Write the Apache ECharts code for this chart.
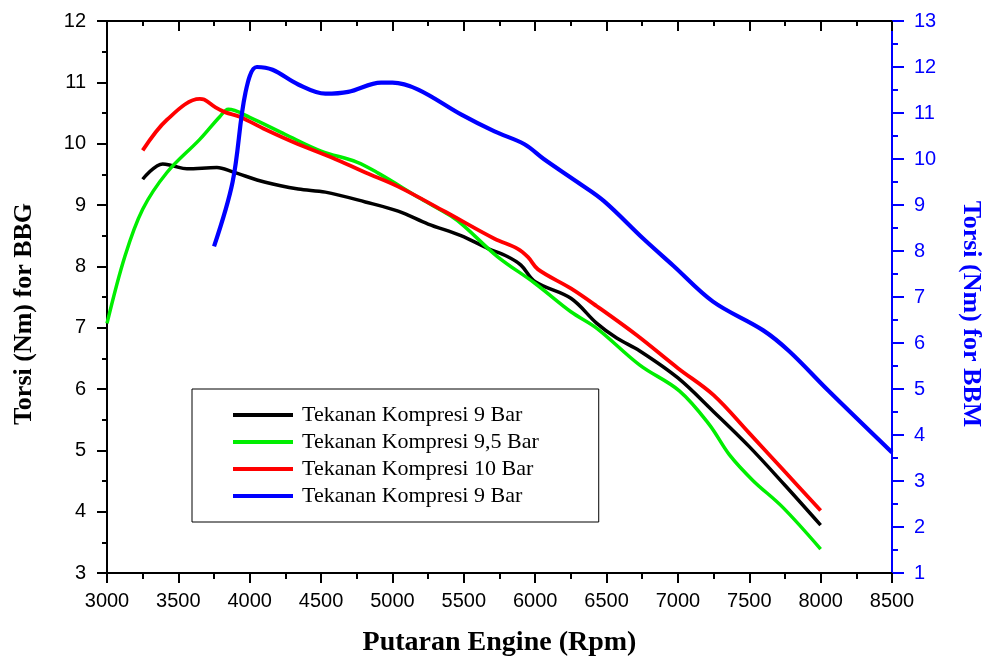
<!DOCTYPE html>
<html>
<head>
<meta charset="utf-8">
<script src="https://cdn.jsdelivr.net/npm/echarts@6/dist/echarts.min.js"></script>
<style>html,body{margin:0;padding:0;background:#fff;overflow:hidden}#c{width:992px;height:662px}</style>
</head>
<body>
<div id="c"></div>
<script>
// ---- data ----
var xTicks = [3000, 3500, 4000, 4500, 5000, 5500, 6000, 6500, 7000, 7500, 8000, 8500];
var seriesKeys = ['k9', 'k95', 'k10', 'k9bbm'];
var legendLabels = ['Tekanan Kompresi 9 Bar', 'Tekanan Kompresi 9,5 Bar', 'Tekanan Kompresi 10 Bar', 'Tekanan Kompresi 9 Bar'];

var rpmBlack = [3250, 3390, 3460, 3560, 3770, 3880, 4110, 4340, 4530, 4810, 5040, 5250, 5480, 5670, 5805, 5900, 6000, 6250, 6432, 6571, 6733, 7000, 7250, 7500, 7750, 8000];
var torBlack = [9.42, 9.67, 9.64, 9.59, 9.61, 9.54, 9.37, 9.26, 9.21, 9.05, 8.90, 8.69, 8.50, 8.29, 8.16, 8.02, 7.75, 7.48, 7.07, 6.83, 6.62, 6.18, 5.63, 5.06, 4.43, 3.78];

var rpmGreen = [3000, 3125, 3250, 3420, 3650, 3790, 3850, 4000, 4250, 4500, 4750, 4900, 5200, 5410, 5500, 5735, 6000, 6250, 6432, 6733, 7010, 7220, 7360, 7525, 7735, 8000];
var torGreen = [7.07, 8.16, 8.93, 9.53, 10.07, 10.44, 10.56, 10.43, 10.15, 9.88, 9.70, 9.52, 9.10, 8.82, 8.66, 8.16, 7.72, 7.26, 6.99, 6.39, 5.97, 5.42, 4.93, 4.51, 4.07, 3.39];

var rpmRed = [3250, 3420, 3650, 3680, 3760, 3830, 3930, 4110, 4340, 4570, 4810, 5040, 5370, 5715, 5875, 5950, 6020, 6250, 6432, 6710, 7000, 7250, 7500, 7750, 8000];
var torRed = [9.89, 10.39, 10.73, 10.72, 10.59, 10.51, 10.44, 10.23, 9.99, 9.78, 9.53, 9.30, 8.89, 8.45, 8.29, 8.15, 7.95, 7.64, 7.35, 6.88, 6.34, 5.90, 5.28, 4.65, 4.02];

var rpmBlue = [3750, 3880, 3970, 4050, 4160, 4340, 4530, 4690, 4920, 5000, 5180, 5480, 5715, 5925, 6060, 6295, 6480, 6760, 6968, 7246, 7595, 7780, 8055, 8500];
var torBlue = [8.10, 9.50, 11.44, 12.00, 11.94, 11.62, 11.42, 11.46, 11.66, 11.66, 11.51, 10.97, 10.60, 10.32, 10.00, 9.50, 9.09, 8.26, 7.68, 6.90, 6.28, 5.82, 4.96, 3.62];

function pairs(xs, ys) { return xs.map(function (x, i) { return [x, ys[i]]; }); }

var labelMap = {};
seriesKeys.forEach(function (k, i) { labelMap[k] = legendLabels[i]; });

var chart = echarts.init(document.getElementById('c'), null, { renderer: 'canvas', width: 992, height: 662 });
var sansFont = 'Liberation Sans, Arial, sans-serif';
var serifFont = 'Liberation Serif, Times New Roman, serif';

function lineSeries(key, data, color, width, yIdx) {
  return {
    name: key, type: 'line', data: data, yAxisIndex: yIdx,
    smooth: 0.35, showSymbol: false, symbol: 'none',
    lineStyle: { color: color, width: width, cap: 'butt' },
    itemStyle: { color: color },
    animation: false
  };
}

chart.setOption({
  animation: false,
  backgroundColor: '#fff',
  grid: { left: 107, right: 95, top: 21, bottom: 86 },
  legend: {
    orient: 'vertical', left: 192, top: 389,
    data: seriesKeys,
    formatter: function (n) { return labelMap[n]; },
    icon: 'rect', itemWidth: 60, itemHeight: 4, itemGap: 5,
    padding: [15, 60, 15, 41],
    borderColor: '#000', borderWidth: 1, backgroundColor: '#fff',
    selectedMode: false,
    textStyle: { fontFamily: serifFont, fontSize: 22, color: '#000', lineHeight: 21.5, padding: [0, 0, 0, 4] }
  },
  xAxis: [
    {
      type: 'value', position: 'bottom', min: 3000, max: 8500, interval: 500,
      name: 'Putaran Engine (Rpm)', nameLocation: 'middle', nameGap: 56,
      nameTextStyle: { fontFamily: serifFont, fontWeight: 'bold', fontSize: 28, color: '#000' },
      axisLine: { show: true, lineStyle: { color: '#000', width: 2 } },
      axisTick: { show: true, length: 10, lineStyle: { color: '#000', width: 2 } },
      minorTick: { show: true, splitNumber: 2, length: 6, lineStyle: { color: '#000', width: 2 } },
      axisLabel: { fontFamily: sansFont, fontSize: 20, color: '#000', margin: 18, formatter: function (v) { return String(v); } },
      splitLine: { show: false }
    },
    {
      type: 'value', position: 'top', min: 3000, max: 8500, interval: 500,
      axisLine: { show: true, lineStyle: { color: '#000', width: 2 } },
      axisTick: { show: true, inside: true, length: 10, lineStyle: { color: '#000', width: 2 } },
      minorTick: { show: true, splitNumber: 2, length: 5, lineStyle: { color: '#000', width: 2 } },
      axisLabel: { show: false },
      splitLine: { show: false }
    }
  ],
  yAxis: [
    {
      type: 'value', position: 'left', min: 3, max: 12, interval: 1,
      name: 'Torsi (Nm) for BBG', nameLocation: 'middle', nameGap: 70,
      nameTextStyle: { fontFamily: serifFont, fontWeight: 'bold', fontSize: 26, color: '#000', padding: [0, 34, 0, 0] },
      axisLine: { show: true, lineStyle: { color: '#000', width: 2 } },
      axisTick: { show: true, length: 10, lineStyle: { color: '#000', width: 2 } },
      minorTick: { show: true, splitNumber: 2, length: 5, lineStyle: { color: '#000', width: 2 } },
      axisLabel: { fontFamily: sansFont, fontSize: 20, color: '#000', margin: 21 },
      splitLine: { show: false }
    },
    {
      type: 'value', position: 'right', min: 1, max: 13, interval: 1,
      name: 'Torsi (Nm) for BBM', nameLocation: 'middle', nameGap: 66, nameRotate: -90,
      nameTextStyle: { fontFamily: serifFont, fontWeight: 'bold', fontSize: 26, color: '#0000ff', padding: [0, 0, 0, 34] },
      axisLine: { show: true, lineStyle: { color: '#0000ff', width: 2 } },
      axisTick: { show: true, length: 12, lineStyle: { color: '#0000ff', width: 2 } },
      minorTick: { show: true, splitNumber: 2, length: 6, lineStyle: { color: '#0000ff', width: 2 } },
      axisLabel: { fontFamily: sansFont, fontSize: 20, color: '#0000ff', margin: 22 },
      splitLine: { show: false }
    }
  ],
  series: [
    lineSeries('k9', pairs(rpmBlack, torBlack), '#000000', 3.5, 0),
    lineSeries('k95', pairs(rpmGreen, torGreen), '#00ee00', 3.5, 0),
    lineSeries('k10', pairs(rpmRed, torRed), '#ff0000', 3.8, 0),
    lineSeries('k9bbm', pairs(rpmBlue, torBlue), '#0000ff', 4.2, 1)
  ]
});
</script>
</body>
</html>
